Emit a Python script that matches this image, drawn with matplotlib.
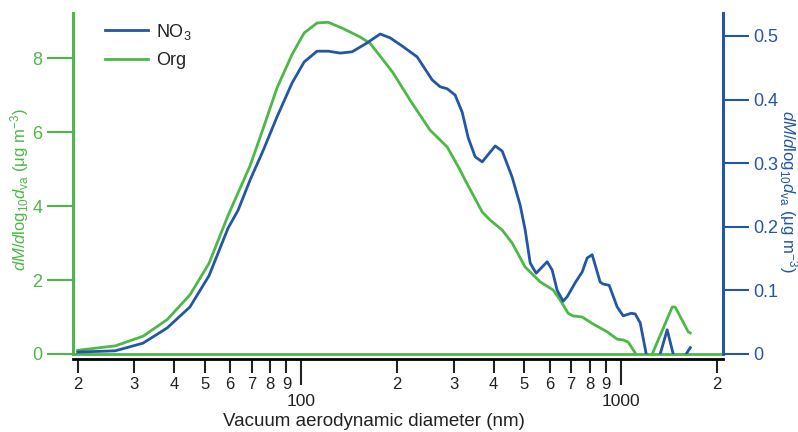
import matplotlib
matplotlib.use("Agg")
import matplotlib.pyplot as plt
from matplotlib.ticker import FixedLocator, FixedFormatter

plt.rcParams['font.family'] = 'Liberation Sans'
plt.rcParams['mathtext.fontset'] = 'custom'
plt.rcParams['mathtext.rm'] = 'Liberation Sans'
plt.rcParams['mathtext.it'] = 'Liberation Sans:italic'

green = '#4db848'
blue = '#2356a6'

# size distributions, vacuum aerodynamic diameter in nm
org_dva = [20.0, 26.2, 32.0, 38.1, 44.9, 51.5, 59.1, 69.3, 76.1, 84.1, 93.7,
           102.2, 112.2, 121.5, 135.3, 153.0, 164.4, 180.6, 194.1, 219.4,
           253.4, 286.4, 314.6, 326.2, 368.7, 390.5, 425.8, 457.5, 502.5,
           559.8, 614.8, 646.5, 685.0, 710.0, 757.8, 820.2, 907.3, 975.0,
           1018, 1056, 1110, 1180, 1255, 1450, 1481, 1627, 1651]
org_val = [0.10, 0.22, 0.48, 0.93, 1.6, 2.45, 3.75, 5.1, 6.1, 7.2, 8.1,
           8.68, 8.95, 8.97, 8.8, 8.57, 8.4, 7.95, 7.6, 6.86,
           6.05, 5.6, 4.97, 4.7, 3.84, 3.62, 3.35, 3.0, 2.35,
           1.95, 1.73, 1.46, 1.1, 1.03, 1.0, 0.81, 0.6, 0.4,
           0.38, 0.32, 0.03, -0.6, 0.0, 1.27, 1.27, 0.6, 0.57]

no3_dva = [20.0, 26.2, 32.0, 38.1, 44.9, 51.5, 59.1, 63.5, 69.3, 76.1, 84.1,
           93.7, 102.2, 112.2, 121.5, 132.5, 144.4, 160.9, 176.7, 189.9,
           208.6, 230.7, 257.0, 272.3, 286.4, 303.4, 319.2, 333.3, 350.5,
           368.7, 404.9, 425.8, 457.5, 484.7, 502.5, 521.0, 543.9, 588.8,
           610.4, 632.8, 660.7, 680.0, 720.5, 757.8, 785.5, 814.3, 862.6,
           881.5, 920.4, 975.0, 1018, 1079, 1110, 1151, 1202, 1260, 1329,
           1398, 1460, 1530, 1603, 1651]
no3_val = [0.003, 0.005, 0.017, 0.041, 0.074, 0.123, 0.198, 0.226, 0.274, 0.32, 0.373,
           0.426, 0.459, 0.476, 0.476, 0.473, 0.475, 0.489, 0.503, 0.497,
           0.483, 0.467, 0.431, 0.42, 0.417, 0.407, 0.38, 0.34, 0.31,
           0.302, 0.327, 0.319, 0.278, 0.234, 0.195, 0.143, 0.127, 0.145,
           0.132, 0.1, 0.083, 0.09, 0.112, 0.129, 0.151, 0.156, 0.113,
           0.11, 0.108, 0.074, 0.06, 0.064, 0.063, 0.049, 0.0, -0.04, 0.0,
           0.038, 0.0, -0.02, 0.0, 0.01]

minor_ticks = [20, 30, 40, 50, 60, 70, 80, 90, 200, 300, 400, 500, 600, 700, 800, 900, 2000]
minor_labels = ['2', '3', '4', '5', '6', '7', '8', '9', '2', '3', '4', '5', '6', '7', '8', '9', '2']
major_ticks = [100, 1000]
major_labels = ['100', '1000']

fig = plt.figure(figsize=(7.98, 4.32), dpi=100)
ax = fig.add_axes([73/798, 1-354/432, 650/798, 341/432])
ax2 = ax.twinx()

ax.plot(org_dva, org_val, color=green, lw=2, label='Org', zorder=3)
ax2.plot(no3_dva, no3_val, color=blue, lw=2, label='NO$_3$', zorder=3)
ax.axhline(0, color=green, lw=2, clip_on=False, zorder=4)

ax.set_xscale('log')
ax.set_xlim(19.33, 2090)
ax.set_ylim(0, 9.22)
ax2.set_ylim(0, 0.536)

ax.xaxis.set_major_locator(FixedLocator(major_ticks))
ax.xaxis.set_major_formatter(FixedFormatter(major_labels))
ax.xaxis.set_minor_locator(FixedLocator(minor_ticks))
ax.xaxis.set_minor_formatter(FixedFormatter(minor_labels))
ax.tick_params(axis='x', which='major', length=19, width=1.5, pad=6.5, labelsize=12.5, colors='#222222')
ax.tick_params(axis='x', which='minor', length=10, width=1.5, pad=3, labelsize=12, colors='#222222')

ax.set_yticks([0, 2, 4, 6, 8])
ax.tick_params(axis='y', length=19, width=1.5, pad=3, labelsize=13, colors=green)
ax2.set_yticks([0, 0.1, 0.2, 0.3, 0.4, 0.5])
ax2.set_yticklabels(['0', '0.1', '0.2', '0.3', '0.4', '0.5'])
ax2.tick_params(axis='y', length=19, width=1.5, pad=3, labelsize=13, colors=blue)

for a in (ax, ax2):
    a.spines['top'].set_visible(False)
    a.spines['bottom'].set_position(('outward', 3.6))
    a.spines['bottom'].set_color('black')
    a.spines['bottom'].set_linewidth(2)
    a.spines['left'].set_color(green)
    a.spines['left'].set_linewidth(2)
    a.spines['right'].set_color(blue)
    a.spines['right'].set_linewidth(2)
ax2.spines['bottom'].set_visible(False)

fig.text(374/798, 1-421/432, 'Vacuum aerodynamic diameter (nm)', ha='center', va='center',
         fontsize=13.5, color='#222222')
fig.text(20/798, 1-190/432, r'$dM/d\mathrm{log}_{10}d_{\mathrm{va}}$ (μg m$^{-3}$)',
         rotation=90, ha='center', va='center', fontsize=12, color=green)
fig.text(788/798, 1-191/432, r'$dM/d\mathrm{log}_{10}d_{\mathrm{va}}$ (μg m$^{-3}$)',
         rotation=-90, ha='center', va='center', fontsize=12, color=blue)

h1, l1 = ax2.get_legend_handles_labels()
h2, l2 = ax.get_legend_handles_labels()
leg = ax2.legend(h1 + h2, l1 + l2, loc='upper left', bbox_to_anchor=(0.049, 0.975),
                 frameon=False, fontsize=13, borderpad=0, borderaxespad=0,
                 handlelength=2.4, handletextpad=0.45, labelspacing=0.6)
for t in leg.get_texts():
    t.set_color('#222222')

fig.savefig('out.png', dpi=100)
